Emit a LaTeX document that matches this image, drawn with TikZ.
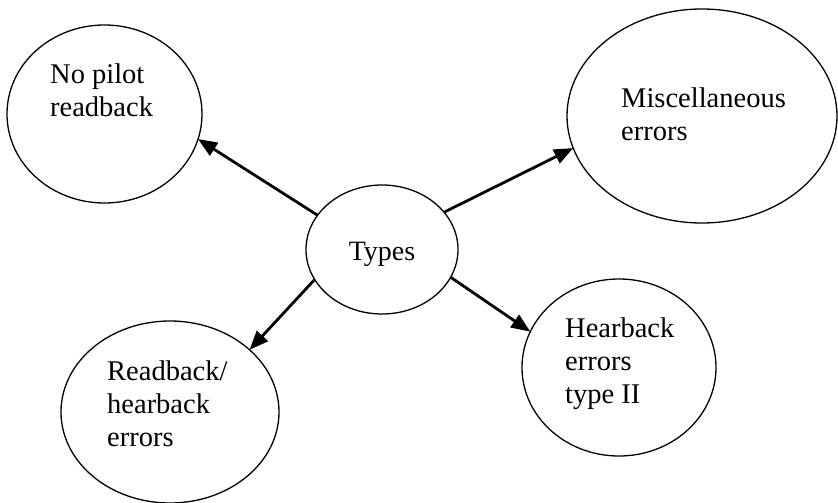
\documentclass[tikz,border=0pt]{standalone}
\usepackage{fontspec}
\setmainfont{Liberation Serif}
\usetikzlibrary{shapes.geometric,arrows.meta}

\tikzset{
  bubble/.style={draw, ellipse, line width=1.3pt, inner sep=0pt, outer sep=0pt},
  caption/.style={inner sep=0pt, anchor=base west,
    font=\fontsize{28.5}{33}\selectfont},
  link/.style={line width=2.8pt, -{Triangle[length=19pt,width=15pt]}}
}
\newcommand{\lines}[1]{\begin{tabular}[t]{@{}l@{}}#1\end{tabular}}

\begin{document}
\begin{tikzpicture}[x=1pt, y=-1pt]
  \useasboundingbox (0,0) rectangle (838,503);

  % outer categories
  \node[bubble, minimum width=195pt, minimum height=178pt] (np)   at (104.5,114) {};
  \node[bubble, minimum width=270pt, minimum height=214pt] (misc) at (702,116) {};
  \node[bubble, minimum width=218pt, minimum height=182pt] (rh)   at (170,412) {};
  \node[bubble, minimum width=194pt, minimum height=177pt] (hb)   at (619,367.5) {};

  % central node
  \node[bubble, minimum width=152pt, minimum height=129pt] (types) at (382,249.5) {};
  \node[inner sep=0pt, anchor=base, font=\fontsize{28}{33}\selectfont] (typeslbl) at (382,260) {Types};

  % labels
  \node[caption] (nplbl)   at (50,83)   {\lines{No pilot\\readback}};
  \node[caption] (misclbl) at (621,107) {\lines{Miscellaneous\\errors}};
  \node[caption] (rhlbl)   at (107,380) {\lines{Readback/\\hearback\\errors}};
  \node[caption] (hblbl)   at (565,337) {\lines{Hearback\\errors\\type II}};

  % connectors
  \draw[link] (types.152.7) -- (np.-15.7);
  \draw[link] (types.31.6)  -- (misc.194.8);
  \draw[link] (types.204.5) -- (rh.38);
  \draw[link] (types.-22.7) -- (hb.158.6);
\end{tikzpicture}
\end{document}
